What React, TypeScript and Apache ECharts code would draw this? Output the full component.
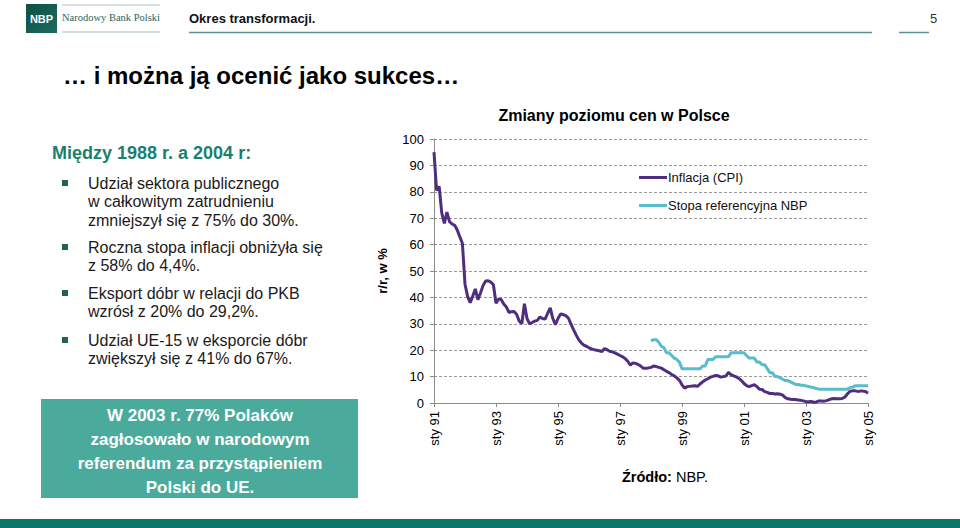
import React, { useEffect, useRef } from "react";
import * as echarts from "echarts";

const monthNames = ["sty", "lut", "mar", "kwi", "maj", "cze", "lip", "sie", "wrz", "paź", "lis", "gru"];
const years = ["91", "92", "93", "94", "95", "96", "97", "98", "99", "00", "01", "02", "03", "04", "05"];

const inflation = [
  95, 80.5, 82, 72, 68, 72.3, 68.7, 67.8, 67.3, 65.5, 63, 60.4,
  45, 40.4, 38, 40.5, 43.2, 39.1, 41.7, 44.5, 46.2, 46.3, 45.8, 44.8,
  37.8, 39.4, 39.2, 37.5, 36.4, 34.3, 34.6, 34.7, 33.5, 31, 30, 37.6,
  32, 30, 30.5, 31, 31.3, 32.6, 32, 31.8, 34, 36, 32, 29.7,
  32, 33.7, 33.5, 33.1, 32.2, 30, 27.8, 25.8, 24, 22.8, 21.9, 21.5,
  20.9, 20.5, 20.2, 20, 19.8, 19.5, 20.6, 20.2, 19.6, 19.4, 19, 18.5,
  18, 17.5, 16.8, 15.8, 14.3, 15.2, 15, 14.6, 14, 13.2, 13.2, 13.3,
  13.5, 14, 13.8, 13.5, 13.2, 12.6, 12, 11.5, 10.8, 10.3, 9.5, 8.6,
  6.9, 5.6, 6.2, 6.3, 6.4, 6.5, 6.3, 7.2, 8.0, 8.7, 9.2, 9.8,
  10.1, 10.4, 10.3, 9.8, 10.0, 10.2, 11.6, 10.7, 10.3, 9.9, 9.3, 8.5,
  7.4, 6.6, 6.2, 6.6, 6.9, 6.2, 5.2, 5.1, 4.3, 4.0, 3.6, 3.6,
  3.4, 3.5, 3.3, 3.0, 2.0, 1.6, 1.4, 1.3, 1.3, 1.1, 1.0, 0.8,
  0.5, 0.5, 0.6, 0.3, 0.4, 0.8, 0.8, 0.7, 0.9, 1.3, 1.6, 1.7,
  1.6, 1.6, 1.7, 2.2, 3.4, 4.4, 4.6, 4.6, 4.4, 4.5, 4.5, 4.4,
  3.7,
];

// NBP reference rate, starting Jan 1998 (earlier months have no value)
const referenceRateStart = 84;
const referenceRate = [
  23.5, 24, 24, 23, 21.5, 21, 19, 19, 18, 17, 16.5, 15.5,
  13, 13, 13, 13, 13, 13, 13, 13, 14, 14, 16.5, 16.5,
  16.5, 17.5, 17.5, 17.5, 17.5, 17.5, 17.5, 19, 19, 19, 19, 19,
  19, 18, 17, 17, 17, 15.5, 15.5, 14.5, 14.5, 13, 11.5, 11.5,
  10, 10, 9.5, 9, 8.5, 8.5, 8, 7.5, 7, 7, 6.75, 6.75,
  6.5, 6.25, 6, 5.75, 5.5, 5.25, 5.25, 5.25, 5.25, 5.25, 5.25, 5.25,
  5.25, 5.25, 5.25, 5.25, 5.25, 5.75, 6, 6.5, 6.5, 6.5, 6.5, 6.5,
  6.5,
];

const bulletLines = [
  ["Udział sektora publicznego", "w całkowitym zatrudnieniu", "zmniejszył się z 75% do 30%."],
  ["Roczna stopa inflacji obniżyła się", "z 58% do 4,4%."],
  ["Eksport dóbr w relacji do PKB", "wzrósł z 20% do 29,2%."],
  ["Udział UE-15 w eksporcie dóbr", "zwiększył się z 41% do 67%."],
];
const boxLines = ["W 2003 r. 77% Polaków", "zagłosowało w narodowym", "referendum za przystąpieniem", "Polski do UE."];

const FONT = "Liberation Sans, Arial, sans-serif";

export default function App() {
  const ref = useRef<HTMLDivElement>(null);
  useEffect(() => {
    if (!ref.current) return;
    const chart = echarts.init(ref.current, undefined, { renderer: "svg" });

    const categories: string[] = [];
    years.forEach((y, yi) => {
      monthNames.forEach((m) => {
        if (yi < years.length - 1 || m === "sty") categories.push(m + " " + y);
      });
    });
    const refData: (number | null)[] = categories.map((_, i) =>
      i >= referenceRateStart ? referenceRate[i - referenceRateStart] ?? null : null
    );

    const graphics: any[] = [];
    // header
    graphics.push({
      type: "rect",
      shape: { x: 26, y: 4, width: 31, height: 29 },
      style: {
        fill: new echarts.graphic.LinearGradient(0, 0, 1, 1, [
          { offset: 0, color: "#0d4f44" },
          { offset: 1, color: "#1c6d5f" },
        ]),
      },
    });
    graphics.push({ type: "text", x: 41.5, y: 18.5, style: { text: "NBP", fill: "#fff", font: "bold 11px " + FONT, align: "center", verticalAlign: "middle" } });
    graphics.push({ type: "text", x: 62, y: 17.5, style: { text: "Narodowy Bank Polski", fill: "#2a6458", font: "10.5px Liberation Serif, DejaVu Serif, serif", verticalAlign: "middle" } });
    graphics.push({ type: "line", shape: { x1: 62, y1: 5, x2: 160, y2: 5 }, style: { stroke: "#b5c4c2", lineWidth: 1 } });
    graphics.push({ type: "line", shape: { x1: 62, y1: 32, x2: 160, y2: 32 }, style: { stroke: "#a9bcbb", lineWidth: 1 } });
    graphics.push({ type: "text", x: 189, y: 18, style: { text: "Okres transformacji.", fill: "#111", font: "bold 13px " + FONT, verticalAlign: "middle" } });
    graphics.push({ type: "line", shape: { x1: 189, y1: 32.5, x2: 872, y2: 32.5 }, style: { stroke: "#5e8f94", lineWidth: 1.5 } });
    graphics.push({ type: "text", x: 930, y: 18.5, style: { text: "5", fill: "#333", font: "13px " + FONT, verticalAlign: "middle" } });
    graphics.push({ type: "line", shape: { x1: 899, y1: 32.5, x2: 929, y2: 32.5 }, style: { stroke: "#5e8f94", lineWidth: 1.5 } });
    // title
    graphics.push({ type: "text", x: 63, y: 75, style: { text: "… i można ją ocenić jako sukces…", fill: "#000", font: "bold 24px " + FONT, verticalAlign: "middle" } });
    // left column
    graphics.push({ type: "text", x: 52, y: 153, style: { text: "Między 1988 r. a 2004 r:", fill: "#1b7f6e", font: "bold 18px Liberation Sans Narrow, Arial Narrow, " + FONT, verticalAlign: "middle" } });
    const bulletY = [183, 247, 293, 340];
    const lineH = 18.5;
    bulletLines.forEach((lines, bi) => {
      graphics.push({ type: "rect", shape: { x: 62, y: bulletY[bi] - 3, width: 6, height: 6 }, style: { fill: "#245f5a" } });
      lines.forEach((t, li) => {
        graphics.push({ type: "text", x: 88, y: bulletY[bi] + li * lineH, style: { text: t, fill: "#1a1a1a", font: "16px " + FONT, verticalAlign: "middle" } });
      });
    });
    graphics.push({ type: "rect", shape: { x: 41, y: 399, width: 317, height: 99 }, style: { fill: "#4aab9c" } });
    boxLines.forEach((t, i) => {
      graphics.push({ type: "text", x: 200, y: 415 + i * 24, style: { text: t, fill: "#fff", font: "bold 17px " + FONT, align: "center", verticalAlign: "middle" } });
    });
    // chart title & source
    graphics.push({ type: "text", x: 614, y: 115, style: { text: "Zmiany poziomu cen w Polsce", fill: "#000", font: "bold 16px " + FONT, align: "center", verticalAlign: "middle" } });
    graphics.push({
      type: "text", x: 622, y: 477,
      style: {
        text: "{b|Źródło:} NBP.",
        fill: "#000",
        font: "14.5px " + FONT,
        verticalAlign: "middle",
        rich: { b: { font: "bold 14.5px " + FONT, fill: "#000" } },
      },
    });
    // bottom band
    graphics.push({ type: "rect", shape: { x: 0, y: 519, width: 960, height: 9 }, style: { fill: "#0b7567" } });

    chart.setOption({
      animation: false,
      backgroundColor: "#fff",
      graphic: graphics,
      grid: { left: 434, right: 92, top: 139, bottom: 125, containLabel: false },
      legend: {
        orient: "vertical",
        left: 634,
        top: 166,
        itemWidth: 28,
        itemHeight: 3,
        itemGap: 15,
        icon: "rect",
        textStyle: { fontFamily: FONT, fontSize: 13, color: "#111", padding: [0, 0, 0, -4] },
        data: ["Inflacja (CPI)", "Stopa referencyjna NBP"],
      },
      xAxis: {
        type: "category",
        data: categories,
        boundaryGap: false,
        axisLine: { lineStyle: { color: "#8c8c8c", width: 1 } },
        axisTick: { interval: 23, length: 4, lineStyle: { color: "#8c8c8c" } },
        axisLabel: { interval: 23, rotate: 90, margin: 8, fontFamily: FONT, fontSize: 13, color: "#000" },
        splitLine: { show: false },
      },
      yAxis: {
        type: "value",
        min: 0,
        max: 100,
        interval: 10,
        name: "r/r, w %",
        nameLocation: "middle",
        nameRotate: 90,
        nameGap: 45,
        nameTextStyle: { fontFamily: FONT, fontSize: 13, fontWeight: "bold", color: "#000" },
        axisLine: { show: true, lineStyle: { color: "#8c8c8c", width: 1 } },
        axisTick: { show: true, length: 4, lineStyle: { color: "#8c8c8c" } },
        axisLabel: { margin: 10, fontFamily: FONT, fontSize: 13, color: "#000" },
        splitLine: { lineStyle: { color: "#9a9a9a", type: [3, 2], width: 1 } },
      },
      series: [
        {
          name: "Inflacja (CPI)",
          type: "line",
          data: inflation,
          showSymbol: false,
          symbol: "none",
          lineStyle: { color: "#4f2d7f", width: 3 },
          itemStyle: { color: "#4f2d7f" },
        },
        {
          name: "Stopa referencyjna NBP",
          type: "line",
          data: refData,
          showSymbol: false,
          symbol: "none",
          connectNulls: false,
          lineStyle: { color: "#58bccb", width: 3 },
          itemStyle: { color: "#58bccb" },
        },
      ],
    });
    return () => chart.dispose();
  }, []);
  return <div ref={ref} style={{ position: "fixed", left: 0, top: 0, width: 960, height: 528 }} />;
}
